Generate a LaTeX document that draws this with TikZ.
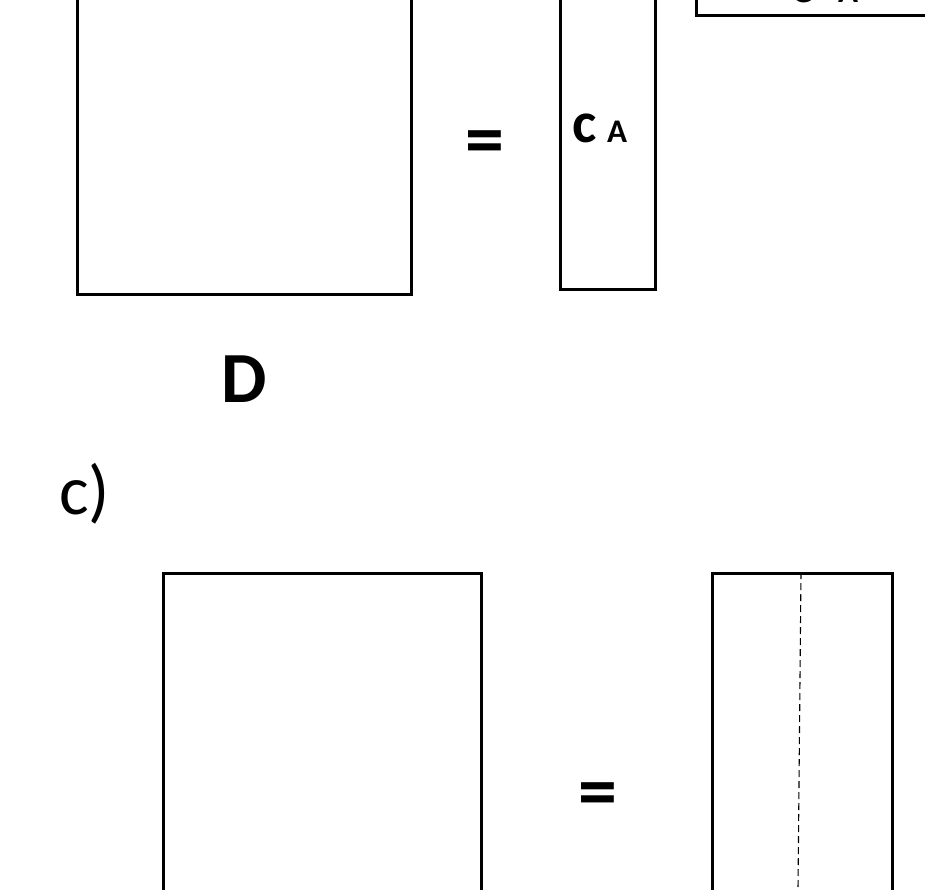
\documentclass[tikz,border=0pt]{standalone}
\usepackage{fontspec}
\setmainfont{Carlito}
\usetikzlibrary{positioning}

\begin{document}
\begin{tikzpicture}[
    x=1pt, y=-1pt,
    matbox/.style={rectangle, draw=black, line width=3pt, inner sep=0pt},
    splitline/.style={draw=black, line width=1.1pt, dash pattern=on 7pt off 4pt},
    eqsign/.style={inner sep=0pt, font=\fontsize{78}{86}\selectfont\bfseries},
    bigletter/.style={inner sep=0pt, font=\fontsize{58}{66}\selectfont\bfseries},
    subletter/.style={inner sep=0pt, font=\fontsize{33}{40}\selectfont\bfseries},
    partlabel/.style={inner sep=0pt, font=\fontsize{70}{78}\selectfont}
]
\useasboundingbox (0,0) rectangle (925,889);
\clip (0,0) rectangle (925,889);

% ─── Upper product (cut at the top) ──────────────────────────────────
\node[matbox, anchor=south west, minimum width=334pt, minimum height=346pt] (boxD) at (76,296) {};
\node[eqsign] (eqTop) at (485,148) {=};
\node[matbox, anchor=south west, minimum width=95pt, minimum height=341pt] (boxCA) at (559,291) {};
\node[bigletter, anchor=base west] (cA) at (572,142) {c};
\node[subletter, anchor=base west] (cAsub) at (607,142) {A};
\node[matbox, anchor=south west, minimum width=300pt, minimum height=80pt] (boxRow) at (695,17) {};
\node[bigletter, anchor=base west] (cB) at (790,2) {c};
\node[subletter, anchor=base west] (cBsub) at (838,2) {A};

\node[inner sep=0pt, font=\fontsize{72}{80}\selectfont\bfseries] (labD) at (244,379) {D};

% ─── Part c) ─────────────────────────────────────────────────────────
\node[partlabel, anchor=base west] (labC) at (59,514) {c)};

\node[matbox, anchor=north west, minimum width=318pt, minimum height=360pt] (boxL) at (162,572) {};
\node[eqsign] (eqBot) at (598,800) {=};
\node[matbox, anchor=north west, minimum width=180pt, minimum height=360pt] (boxR) at (711,572) {};
\coordinate (splitTop) at (801,572);
\coordinate (splitBot) at (798,889);
\draw[splitline] (splitTop) -- (splitBot);

\end{tikzpicture}
\end{document}
